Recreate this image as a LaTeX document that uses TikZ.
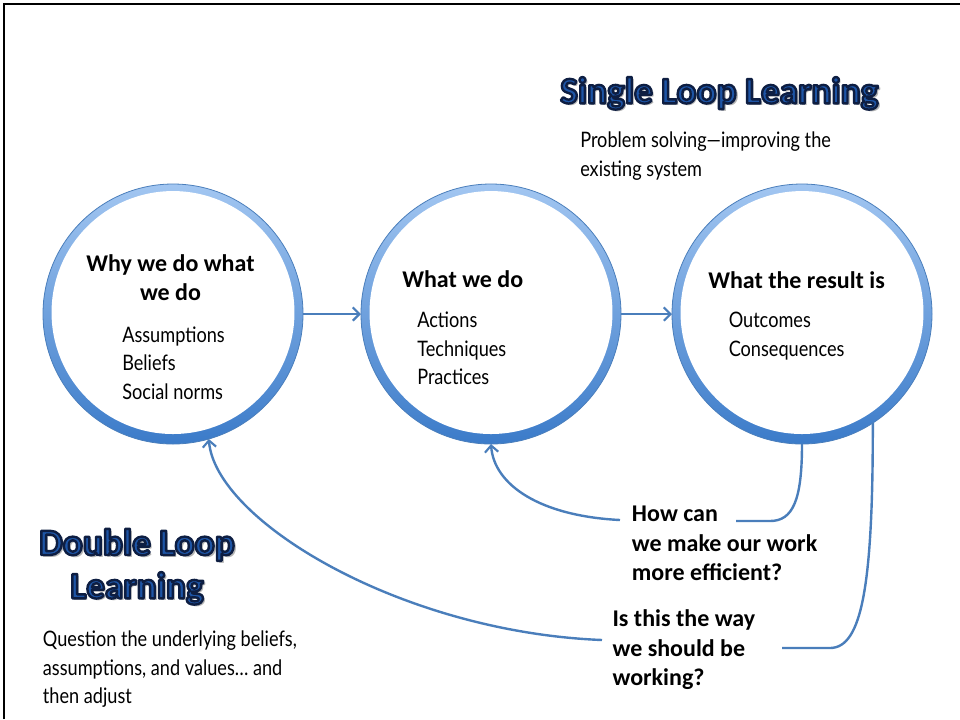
\documentclass[tikz,border=0pt]{standalone}
\usepackage{fontspec}
\setmainfont{Carlito}
\newfontfamily\twfont[FakeStretch=0.85]{Lato}
\usetikzlibrary{arrows.meta}

\definecolor{conn}{HTML}{4A7EBB}
\definecolor{ringtop}{HTML}{A2C6F1}
\definecolor{ringbot}{HTML}{3B7BC9}
\definecolor{ringedge}{HTML}{4A7EBB}
\definecolor{ttlfill}{HTML}{1E55A6}
\definecolor{ttlshade}{HTML}{B4B4B4}

% Heading glyphs filled blue and stroked dark navy (text render mode 2),
% over a light grey copy that acts as a shadow
\newsavebox\ttlbox
\newcommand\ttl[1]{\setbox\ttlbox\hbox{#1}%
  \rlap{\kern1.8pt\raisebox{-1.8pt}{\color{ttlshade}\usebox\ttlbox}}%
  {\color{ttlfill}\special{pdf:literal direct 2 Tr 1.8 w 1 j 0.055 0.118 0.259 RG}%
   \usebox\ttlbox\special{pdf:literal direct 0 Tr}}}

\begin{document}
\begin{tikzpicture}[x=0.75pt,y=-0.75pt,
  ring/.style={circle, minimum size=195pt, inner sep=0pt, outer sep=0pt,
    draw=ringedge, line width=0.6pt, top color=ringtop, bottom color=ringbot,
    path picture={\fill[white] ([yshift=1.1pt]path picture bounding box.center) circle[radius=91.1pt];}},
  conn/.style={draw=conn, line width=1.8pt},
  tip/.style={-{Straight Barb[length=5pt,width=10pt,line width=1.6pt]}},
  heading/.style={font=\bfseries\fontsize{18}{21.75}\selectfont, inner sep=0pt, anchor=base west},
  item/.style={font=\twfont\fontsize{16}{21.75}\selectfont, inner sep=0pt, anchor=base west},
  title/.style={font=\bfseries\fontsize{28}{34}\selectfont, inner sep=0pt, anchor=base west}]
\useasboundingbox (0,0) rectangle (960,719);

% frame edges
\draw[line width=2.2pt, line join=miter] (4,719) -- (4,4) -- (960,4);

% the three stages
\node[ring] (c1) at (173,314) {};
\node[ring] (c2) at (491,314) {};
\node[ring] (c3) at (802,314) {};

\node[heading, anchor=base] (h1a) at (170.5,271) {Why we do what};
\node[heading, anchor=base] (h1b) at (170.5,300) {we do};
\node[item] (i1a) at (122,342) {Assumptions};
\node[item] (i1b) at (122,370.5) {Beliefs};
\node[item] (i1c) at (122,399) {Social norms};

\node[heading] (h2) at (402,287.5) {What we do};
\node[item] (i2a) at (417,327.5) {Actions};
\node[item] (i2b) at (417,356) {Techniques};
\node[item] (i2c) at (417,384.5) {Practices};

\node[heading] (h3) at (708,288.3) {What the result is};
\node[item] (i3a) at (728.5,327.5) {Outcomes};
\node[item] (i3b) at (728.5,356) {Consequences};

% single loop
\node[title] (sl) at (560,103.3) {\ttl{Single Loop Learning}};
\node[item] (sla) at (580,147.3) {Problem solving—improving the};
\node[item] (slb) at (580,176.5) {existing system};

% double loop
\node[title, anchor=base] (dla) at (137,555) {\ttl{Double Loop}};
\node[title, anchor=base] (dlb) at (137,598.3) {\ttl{Learning}};
\node[item] (dqa) at (42.7,646.7) {Question the underlying beliefs,};
\node[item] (dqb) at (42.7,675) {assumptions, and values… and};
\node[item] (dqc) at (42.7,703.3) {then adjust};

% questions
\node[heading] (qa1) at (631.7,521.7) {How can};
\node[heading] (qa2) at (631.7,551) {we make our work};
\node[heading] (qa3) at (631.7,580) {more efficient?};
\node[heading] (qb1) at (612.3,626.7) {Is this the way};
\node[heading] (qb2) at (612.3,656) {we should be};
\node[heading] (qb3) at (612.3,685) {working?};

% loose ends of the feedback lines
\coordinate (q1r) at (736,521);
\coordinate (q1l) at (620,520);
\coordinate (q2r) at (782,648);
\coordinate (q2l) at (602,640);

% forward flow
\draw[conn, tip] (c1.east) -- (c2.west);
\draw[conn, tip] (c2.east) -- (c3.west);

% single loop feedback
\draw[conn] (c3.south) .. controls (802,500) and (793,521) .. (770,521) -- (q1r);
\draw[conn, tip] (q1l) .. controls (540,516) and (494,485) .. (c2.south);

% double loop feedback
\draw[conn] (c3.-57) .. controls (873,585) and (862,648) .. (830,648) -- (q2r);
\draw[conn, tip] (q2l) .. controls (400,632) and (215,520) .. (c1.-74);
\end{tikzpicture}
\end{document}
